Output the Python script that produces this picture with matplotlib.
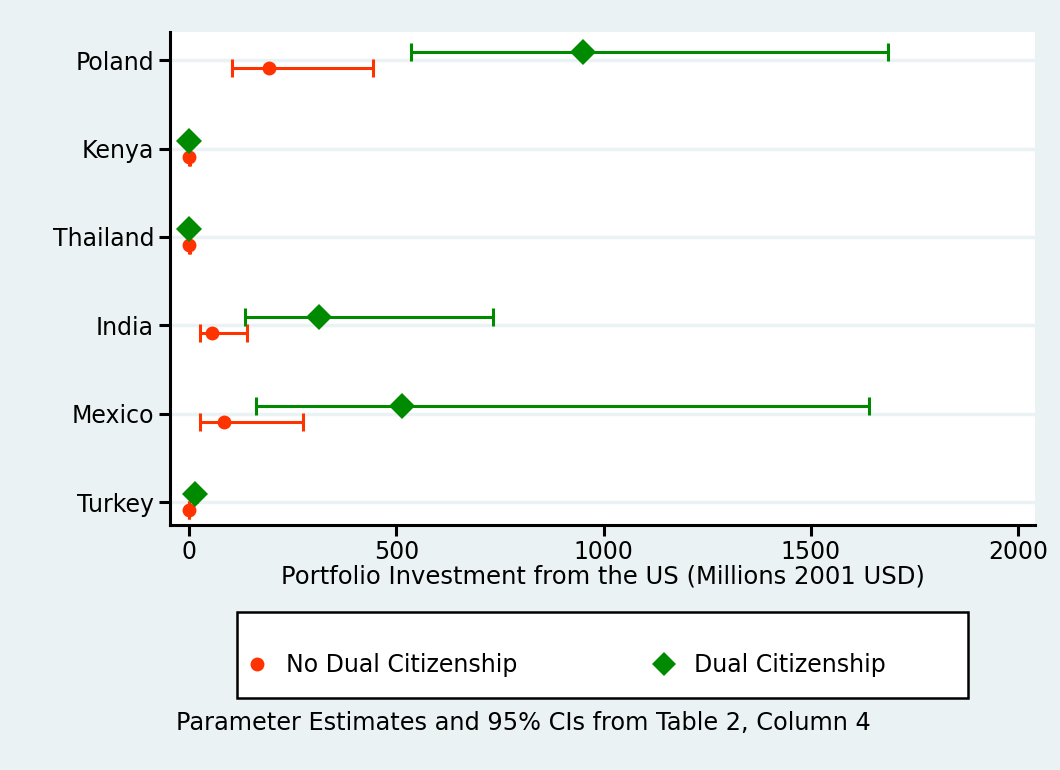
import matplotlib

matplotlib.use("Agg")
import matplotlib.pyplot as plt
import numpy as np
from matplotlib.patches import Rectangle

countries = ["Poland", "Kenya", "Thailand", "India", "Mexico", "Turkey"]

# point estimates and 95% CIs, millions 2001 USD
no_dual_est = [193, 0.5, 0.4, 55, 84, 0.3]
no_dual_lo = [104, 0.1, 0.0, 27, 27, 0.0]
no_dual_hi = [444, 1.5, 1.2, 140, 275, 1.0]

dual_est = [950, 1.0, 1.0, 314, 514, 14]
dual_lo = [536, 0.3, 0.3, 135, 162, 9]
dual_hi = [1686, 3.0, 3.0, 733, 1640, 20]

RED = "#ff3300"
GREEN = "#008a00"
BG = "#eaf2f3"

plt.rcParams["font.family"] = ["DejaVu Sans"]

fig = plt.figure(figsize=(10.6, 7.7), dpi=100, facecolor=BG)
ax = fig.add_axes([170 / 1060, 1 - 525 / 770, 865 / 1060, 493 / 770])
ax.set_facecolor("white")

ypos = np.arange(len(countries))
off = 0.09


def _ci(ax, est, lo, hi, y, color, marker, ms):
    est = np.asarray(est, float)
    err = np.vstack([est - np.asarray(lo, float), np.asarray(hi, float) - est])
    ax.errorbar(
        est, y, xerr=err, fmt="none", ecolor=color,
        elinewidth=2.2, capsize=6.5, capthick=2.2, zorder=3,
    )
    ax.plot(est, y, linestyle="none", marker=marker, color=color,
            markersize=ms, markeredgewidth=0, zorder=4)


for y in ypos:
    ax.axhline(y, color=BG, linewidth=2.5, zorder=1)

_ci(ax, no_dual_est, no_dual_lo, no_dual_hi, ypos + off, RED, "o", 10)
_ci(ax, dual_est, dual_lo, dual_hi, ypos - off, GREEN, "D", 13)

ax.set_xlim(-46, 2041)
ax.set_ylim(5.26, -0.32)
ax.set_yticks(ypos)
ax.set_yticklabels(countries)
ax.set_xticks([0, 500, 1000, 1500, 2000])

for side in ("top", "right"):
    ax.spines[side].set_visible(False)
for side in ("left", "bottom"):
    ax.spines[side].set_linewidth(2.2)
ax.tick_params(axis="both", labelsize=17, length=8, width=2.2, direction="out")
ax.tick_params(axis="x", pad=3)

ax.set_xlabel("Portfolio Investment from the US (Millions 2001 USD)",
              fontsize=17.5, labelpad=0)

# legend box
fig.patches.append(Rectangle(
    (237 / 1060, 1 - 698 / 770), 731 / 1060, 86 / 770,
    transform=fig.transFigure, facecolor="white", edgecolor="black",
    linewidth=1.8, zorder=1,
))
h1 = plt.Line2D([], [], linestyle="none", marker="o", color=RED,
                markersize=10, markeredgewidth=0)
h2 = plt.Line2D([], [], linestyle="none", marker="D", color=GREEN,
                markersize=12, markeredgewidth=0)
leg = fig.legend(
    [h1, h2], ["No Dual Citizenship", "Dual Citizenship"],
    loc="center left", ncol=2, frameon=False, borderaxespad=0, borderpad=0,
    bbox_to_anchor=(245 / 1060, 1 - 665 / 770),
    fontsize=17, handlelength=1.0, handletextpad=0.75, columnspacing=5.7,
)

fig.text(176 / 1060, 1 - 723 / 770,
         "Parameter Estimates and 95% CIs from Table 2, Column 4",
         fontsize=17.3, va="center", ha="left")

fig.savefig("out.png", dpi=100, facecolor=BG)
